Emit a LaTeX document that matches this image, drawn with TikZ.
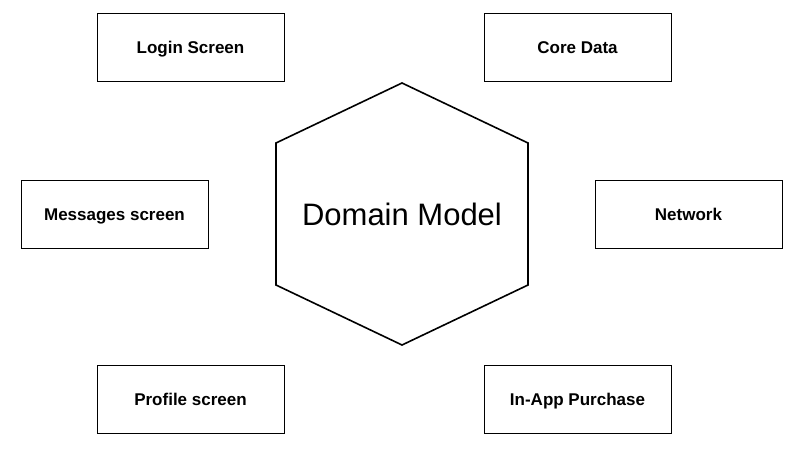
\documentclass[tikz,border=0pt]{standalone}
\usepackage{fontspec}
\setmainfont{Liberation Sans}
\usepackage{tikz}
\usetikzlibrary{positioning, calc}

\begin{document}
\begin{tikzpicture}[
    x=1pt, y=-1pt,
    box/.style={rectangle, draw, line width=1pt, minimum width=187pt, minimum height=68pt, align=center, text depth=0pt, font=\fontsize{17}{20}\selectfont\bfseries},
    core/.style={text depth=0pt, font=\fontsize{31}{35}\selectfont},
    hexline/.style={line width=1.6pt, line join=miter}
]
    \useasboundingbox (0,0) rectangle (806,458);

    \node[box] (login) at (190.5,47.5) {Login Screen};
    \node[box] (coredata) at (577.5,47.5) {Core Data};
    \node[box] (messages) at (114.5,214.5) {Messages screen};
    \node[box] (network) at (688.5,214.5) {Network};
    \node[box] (profile) at (190.5,399) {Profile screen};
    \node[box] (purchase) at (577.5,399) {In-App Purchase};

    \node[core] (domain) at (402,214) {Domain Model};

    % hexagon round the domain model
    \coordinate (htop) at ($(domain)+(0,-131)$);
    \coordinate (hur) at ($(domain)+(126,-71)$);
    \coordinate (hlr) at ($(domain)+(126,71)$);
    \coordinate (hbot) at ($(domain)+(0,131)$);
    \coordinate (hll) at ($(domain)+(-126,71)$);
    \coordinate (hul) at ($(domain)+(-126,-71)$);
    \draw[hexline] (htop) -- (hur) -- (hlr) -- (hbot) -- (hll) -- (hul) -- cycle;
\end{tikzpicture}
\end{document}
